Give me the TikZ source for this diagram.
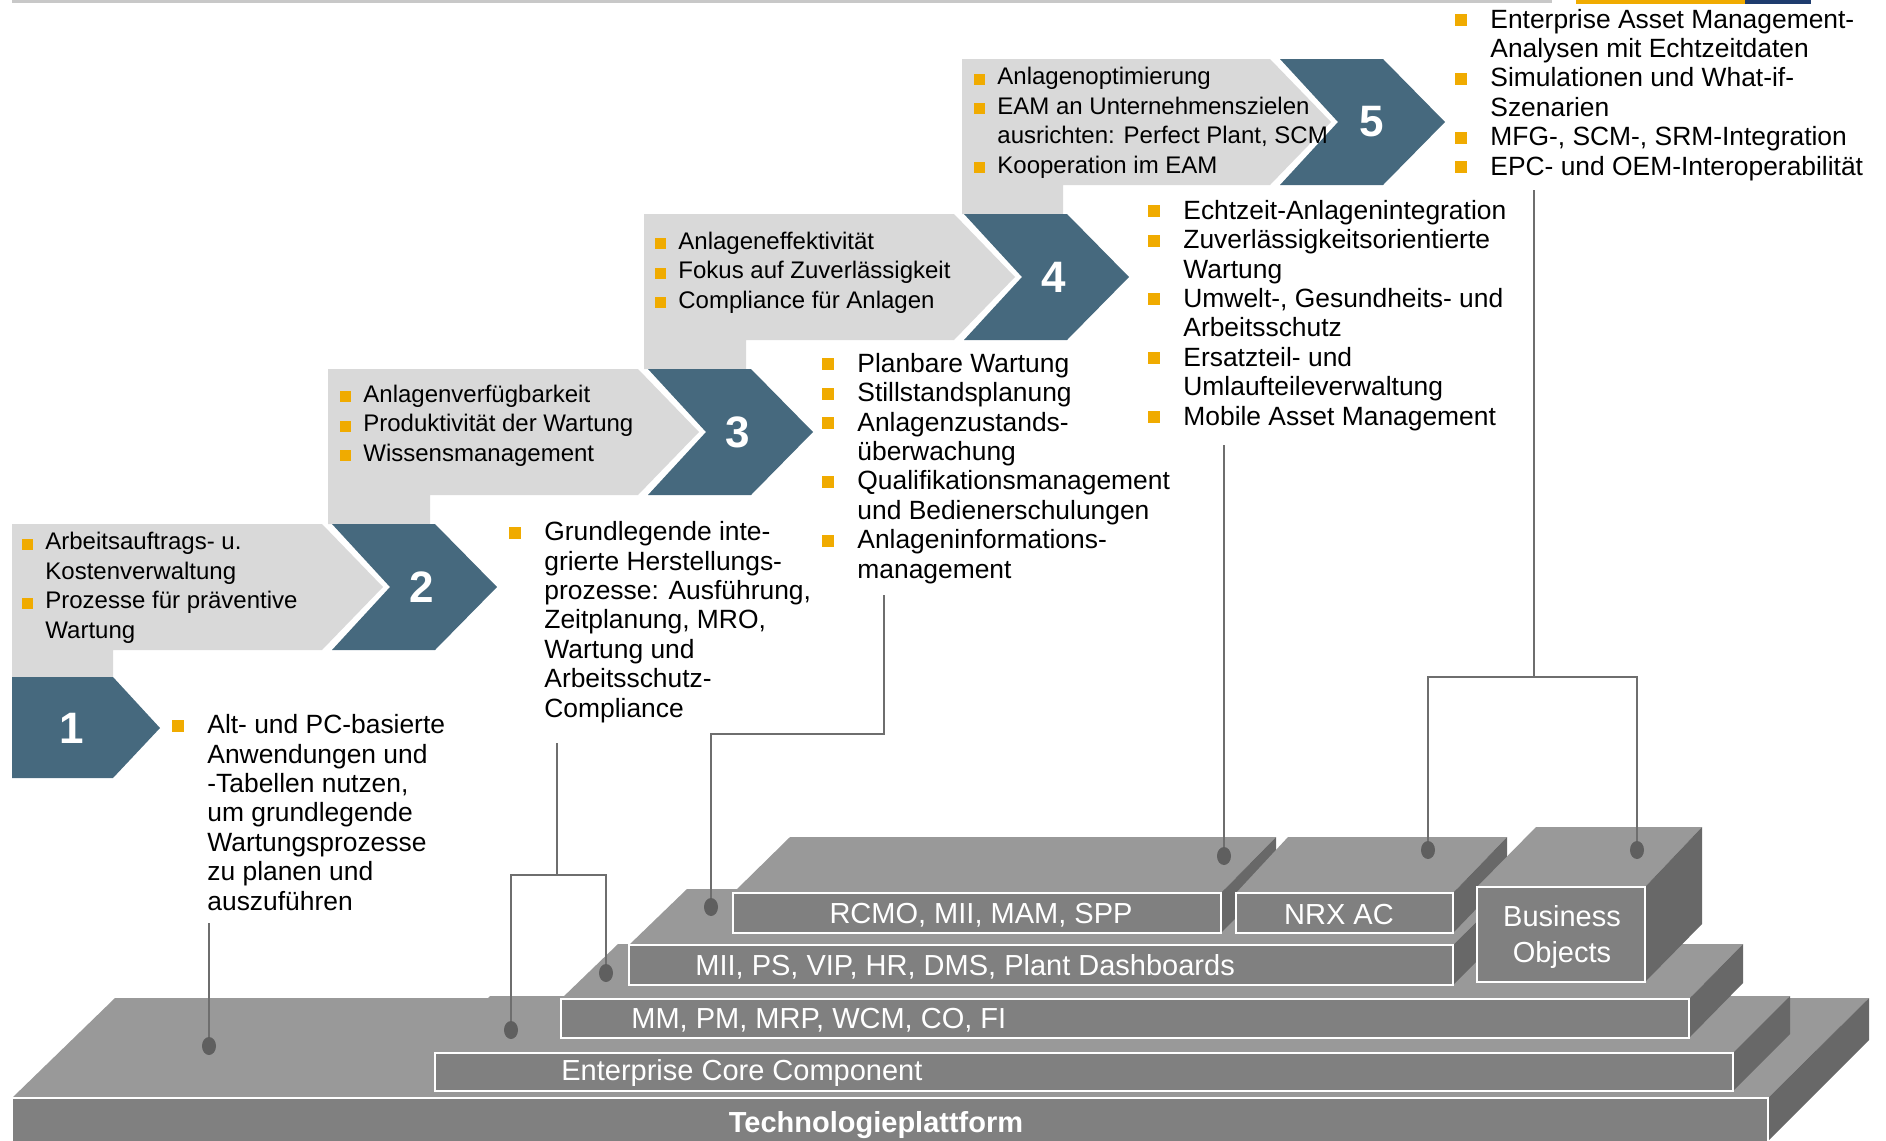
\documentclass[tikz,border=0pt]{standalone}
\usepackage{fontspec}
\setmainfont{Liberation Sans}
\usetikzlibrary{shapes.geometric}

\definecolor{chevblue}{RGB}{70,105,126}
\definecolor{boxgray}{RGB}{217,217,217}
\definecolor{sapgold}{RGB}{240,171,0}
\definecolor{frontgray}{RGB}{128,128,128}
\definecolor{topgray}{RGB}{153,153,153}
\definecolor{sidegray}{RGB}{104,104,104}
\definecolor{linkgray}{RGB}{110,110,110}
\definecolor{pingray}{RGB}{95,95,95}
\definecolor{stripgray}{RGB}{200,200,200}
\definecolor{sapblue}{RGB}{30,60,110}

\newcommand{\bul}{\llap{\textcolor{sapgold}{\rule{5.5pt}{5.5pt}}\hspace{6pt}}}
\newcommand{\rbul}{\llap{\textcolor{sapgold}{\rule[1pt]{6pt}{6pt}}\hspace{11.5pt}}}

\begin{document}
\begin{tikzpicture}[x=0.5pt,y=-0.5pt,
    chev/.style={fill=chevblue},
    stepbox/.style={fill=boxgray},
    num/.style={text=white,inner sep=0,font=\fontsize{22}{26}\selectfont\bfseries},
    boxtxt/.style={anchor=base west,align=left,inner sep=0,font=\fontsize{12}{14.7}\selectfont},
    desc/.style={anchor=base west,align=left,inner sep=0,font=\fontsize{13.2}{14.7}\selectfont},
    topf/.style={fill=topgray},
    sidef/.style={fill=sidegray},
    front/.style={fill=frontgray,draw=white,line width=0.8pt},
    lay/.style={text=white,inner sep=0,font=\fontsize{14.5}{18}\selectfont},
    link/.style={draw=linkgray,line width=1pt},
    pin/.style={ellipse,fill=pingray,minimum width=7pt,minimum height=9pt,inner sep=0}]
    \useasboundingbox (0,0) rectangle (1886,1141);
    \clip (0,0) rectangle (1886,1141);
    \fill[stripgray] (12,0) rectangle (1552,3);
    \fill[sapgold] (1576,0) rectangle (1745,4);
    \fill[sapblue] (1745,0) rectangle (1811,4);

    \fill[stepbox] (12,524)--(322,524)--(383,587)--(322,650)--(113,650)--(113,677)--(12,677)--cycle;
    \fill[stepbox] (328,369)--(638,369)--(699,432)--(638,495)--(430,495)--(430,524)--(328,524)--cycle;
    \fill[stepbox] (644,214)--(954,214)--(1015,277)--(954,340)--(746,340)--(746,369)--(644,369)--cycle;
    \fill[stepbox] (962,59)--(1270,59)--(1331,122)--(1270,185)--(1063,185)--(1063,214)--(962,214)--cycle;
    \fill[chev] (12,677)--(113,677)--(160,728)--(113,778)--(12,778)--cycle;
    \fill[chev] (332,524)--(435,524)--(497,587)--(435,650)--(332,650)--(390,587)--cycle;
    \fill[chev] (648,369)--(751,369)--(813,432)--(751,495)--(648,495)--(706,432)--cycle;
    \fill[chev] (964,214)--(1067,214)--(1129,277)--(1067,340)--(964,340)--(1022,277)--cycle;
    \fill[chev] (1280,59)--(1383,59)--(1445,122)--(1383,185)--(1280,185)--(1338,122)--cycle;
    \node[num] (n1) at (72,728) {1};
    \node[num] (n2) at (422,587) {2};
    \node[num] (n3) at (738,432) {3};
    \node[num] (n4) at (1054,277) {4};
    \node[num] (n5) at (1372,122) {5};

    \node[boxtxt] (s2) at (45,638) {\bul Arbeitsauftrags- u.\\Kostenverwaltung\\\bul Prozesse für präventive\\Wartung};
    \node[boxtxt] (s3) at (363,461) {\bul Anlagenverfügbarkeit\\\bul Produktivität der Wartung\\\bul Wissensmanagement};
    \node[boxtxt] (s4) at (678,308) {\bul Anlageneffektivität\\\bul Fokus auf Zuverlässigkeit\\\bul Compliance für Anlagen};
    \node[boxtxt] (s5) at (997,173) {\bul Anlagenoptimierung\\\bul EAM an Unternehmenszielen\\ausrichten: Perfect Plant, SCM\\\bul Kooperation im EAM};

    \node[desc] (d1) at (207,910) {\rbul Alt- und PC-basierte\\Anwendungen und\\-Tabellen nutzen,\\um grundlegende\\Wartungsprozesse\\zu planen und\\auszuführen};
    \node[desc] (d2) at (544,717) {\rbul Grundlegende inte-\\grierte Herstellungs-\\prozesse: Ausführung,\\Zeitplanung, MRO,\\Wartung und\\Arbeitsschutz-\\Compliance};
    \node[desc] (d3) at (857,578) {\rbul Planbare Wartung\\\rbul Stillstandsplanung\\\rbul Anlagenzustands-\\überwachung\\\rbul Qualifikationsmanagement\\und Bedienerschulungen\\\rbul Anlageninformations-\\management};
    \node[desc] (d4) at (1183,425) {\rbul Echtzeit-Anlagenintegration\\\rbul Zuverlässigkeitsorientierte\\Wartung\\\rbul Umwelt-, Gesundheits- und\\Arbeitsschutz\\\rbul Ersatzteil- und\\Umlaufteileverwaltung\\\rbul Mobile Asset Management};
    \node[desc] (d5) at (1490,175) {\rbul Enterprise Asset Management-\\Analysen mit Echtzeitdaten\\\rbul Simulationen und What-if-\\Szenarien\\\rbul MFG-, SCM-, SRM-Integration\\\rbul EPC- und OEM-Interoperabilität};

    \fill[topf] (12,1098)--(1768,1098)--(1869,998)--(115,998)--cycle;
    \fill[sidef] (1768,1098)--(1869,998)--(1869,1040)--(1768,1141)--cycle;
    \draw[front] (12,1098) rectangle (1768,1150);
    \node[lay,font=\fontsize{14.5}{18}\selectfont\bfseries] (l0) at (876,1125) {Technologieplattform};

    \fill[topf] (435,1053)--(1733,1053)--(1790,996)--(490,996)--cycle;
    \fill[sidef] (1733,1053)--(1790,996)--(1790,1034)--(1733,1091)--cycle;
    \draw[front] (435,1053) rectangle (1733,1091);
    \node[lay,anchor=west] (l1) at (561,1073) {Enterprise Core Component};

    \fill[topf] (561,999)--(1689,999)--(1743,944)--(618,944)--cycle;
    \fill[sidef] (1689,999)--(1743,944)--(1743,983)--(1689,1038)--cycle;
    \draw[front] (561,999) rectangle (1689,1038);
    \node[lay,anchor=west] (l2) at (631,1020) {MM, PM, MRP, WCM, CO, FI};

    \fill[topf] (629,945)--(1453,945)--(1510,889)--(687,889)--cycle;
    \fill[sidef] (1453,945)--(1510,889)--(1510,928)--(1453,985)--cycle;
    \draw[front] (629,945) rectangle (1453,985);
    \node[lay,anchor=west] (l3) at (695,967) {MII, PS, VIP, HR, DMS, Plant Dashboards};

    \fill[topf] (733,893)--(1221,893)--(1276,837)--(790,837)--cycle;
    \fill[sidef] (1221,893)--(1276,837)--(1276,877)--(1221,933)--cycle;
    \draw[front] (733,893) rectangle (1221,933);
    \node[lay] (l4) at (981,915) {RCMO, MII, MAM, SPP};

    \fill[topf] (1236,893)--(1453,893)--(1507,837)--(1288,837)--cycle;
    \fill[sidef] (1453,893)--(1507,837)--(1507,877)--(1453,933)--cycle;
    \draw[front] (1236,893) rectangle (1453,933);
    \node[lay] (l5) at (1339,915) {NRX AC};

    \fill[topf] (1477,887)--(1645,887)--(1702,827)--(1536,827)--cycle;
    \fill[sidef] (1645,887)--(1702,827)--(1702,924)--(1645,982)--cycle;
    \draw[front] (1477,887) rectangle (1645,982);
    \node[lay,align=center] (l6) at (1562,937) {Business\\Objects};

    \coordinate (t1) at (209,923);
    \coordinate (t2) at (557,743);
    \coordinate (b2) at (557,875);
    \coordinate (t3) at (884,595);
    \coordinate (b3) at (884,734);
    \coordinate (t4) at (1224,445);
    \coordinate (t5) at (1534,190);
    \coordinate (b5) at (1534,677);
    \node[pin] (p1) at (209,1046) {};
    \node[pin] (p2a) at (511,1030) {};
    \node[pin] (p2b) at (606,973) {};
    \node[pin] (p3) at (711,907) {};
    \node[pin] (p4) at (1224,856) {};
    \node[pin] (p5a) at (1428,850) {};
    \node[pin] (p5b) at (1637,850) {};
    \draw[link] (t1)--(p1);
    \draw[link] (t2)--(b2) (p2a) |- (b2) -| (p2b);
    \draw[link] (t3)--(b3) -| (p3);
    \draw[link] (t4)--(p4);
    \draw[link] (t5)--(b5) (p5a) |- (b5) -| (p5b);
\end{tikzpicture}
\end{document}
